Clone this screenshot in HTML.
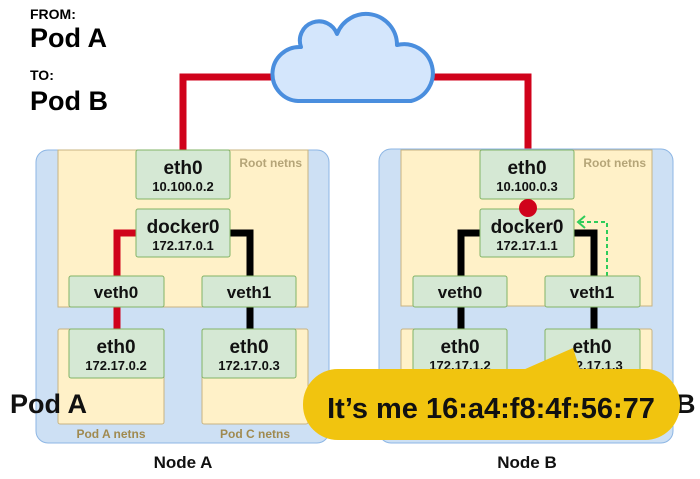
<!DOCTYPE html>
<html><head><meta charset="utf-8"><style>
html,body{margin:0;padding:0;background:#fff;}
svg{display:block;font-family:"Liberation Sans",sans-serif;}
.n{font-weight:bold;fill:#111;text-anchor:middle;}
</style></head><body>
<svg width="700" height="479" viewBox="0 0 700 479">
<text x="30" y="19" font-size="14" font-weight="bold">FROM:</text>
<text x="30" y="47" font-size="27" font-weight="bold">Pod A</text>
<text x="30" y="80" font-size="14" font-weight="bold">TO:</text>
<text x="30" y="110" font-size="27" font-weight="bold">Pod B</text>

<!-- red lines to cloud -->
<polyline points="183,150 183,77 290,77" fill="none" stroke="#d0021b" stroke-width="7"/>
<polyline points="528,150 528,77 420,77" fill="none" stroke="#d0021b" stroke-width="7"/>
<!-- cloud -->
<path d="M298,101 A24,24 0 0 1 301,47 A17,17 0 0 1 337,34 A31,31 0 0 1 397,45 A28,28 0 0 1 411,101 Z" fill="#d4e6fc" stroke="#4a8ede" stroke-width="4" stroke-linejoin="round"/>

<!-- Node A -->
<rect x="36" y="150" width="293" height="293" rx="12" fill="#cde0f4" stroke="#8db6e4" stroke-width="1"/>
<rect x="58" y="150" width="250" height="157" fill="#fff1c8" stroke="#c8b482" stroke-width="1"/>
<rect x="58" y="329" width="106" height="95" rx="2" fill="#fff1c8" stroke="#c8b482" stroke-width="1"/>
<rect x="202" y="329" width="106" height="95" rx="2" fill="#fff1c8" stroke="#c8b482" stroke-width="1"/>
<polyline points="136,233 117,233 117,329" fill="none" stroke="#d0021b" stroke-width="7"/>
<polyline points="230,233 250,233 250,329" fill="none" stroke="#000" stroke-width="7"/>
<text x="302" y="167" font-size="12" font-weight="bold" fill="#b5a578" text-anchor="end">Root netns</text>
<g fill="#d5e8d4" stroke="#82b366" stroke-width="1">
<rect x="136" y="150" width="94" height="49" rx="2"/>
<rect x="136" y="209" width="94" height="48" rx="2"/>
<rect x="69" y="276" width="95" height="31" rx="2"/>
<rect x="202" y="276" width="94" height="31" rx="2"/>
<rect x="69" y="329" width="95" height="49" rx="2"/>
<rect x="202" y="329" width="94" height="49" rx="2"/>
</g>
<text class="n" x="183" y="174" font-size="19">eth0</text>
<text class="n" x="183" y="191" font-size="13">10.100.0.2</text>
<text class="n" x="183" y="233" font-size="19">docker0</text>
<text class="n" x="183" y="250" font-size="13">172.17.0.1</text>
<text class="n" x="116" y="298" font-size="17">veth0</text>
<text class="n" x="249" y="298" font-size="17">veth1</text>
<text class="n" x="116" y="353" font-size="19">eth0</text>
<text class="n" x="116" y="370" font-size="13">172.17.0.2</text>
<text class="n" x="249" y="353" font-size="19">eth0</text>
<text class="n" x="249" y="370" font-size="13">172.17.0.3</text>
<text x="111" y="438" font-size="12" font-weight="bold" fill="#a08a50" text-anchor="middle">Pod A netns</text>
<text x="255" y="438" font-size="12" font-weight="bold" fill="#a08a50" text-anchor="middle">Pod C netns</text>
<text class="n" x="183" y="468" font-size="17">Node A</text>
<text x="10" y="413" font-size="27" font-weight="bold" fill="#111">Pod A</text>

<!-- Node B -->
<rect x="379" y="149" width="294" height="294" rx="12" fill="#cde0f4" stroke="#8db6e4" stroke-width="1"/>
<rect x="401" y="150" width="251" height="156" fill="#fff1c8" stroke="#c8b482" stroke-width="1"/>
<rect x="401" y="329" width="106" height="95" rx="2" fill="#fff1c8" stroke="#c8b482" stroke-width="1"/>
<rect x="545" y="329" width="107" height="95" rx="2" fill="#fff1c8" stroke="#c8b482" stroke-width="1"/>
<polyline points="480,233 461,233 461,329" fill="none" stroke="#000" stroke-width="7"/>
<polyline points="574,233 594,233 594,329" fill="none" stroke="#000" stroke-width="7"/>
<polyline points="607,276 607,222 578,222" fill="none" stroke="#2ecc5a" stroke-width="2" stroke-dasharray="4,3"/>
<polyline points="585,216 578,222 585,228" fill="none" stroke="#2ecc5a" stroke-width="2"/>
<text x="646" y="167" font-size="12" font-weight="bold" fill="#b5a578" text-anchor="end">Root netns</text>
<g fill="#d5e8d4" stroke="#82b366" stroke-width="1">
<rect x="480" y="150" width="94" height="49" rx="2"/>
<rect x="480" y="209" width="94" height="48" rx="2"/>
<rect x="413" y="276" width="94" height="31" rx="2"/>
<rect x="545" y="276" width="95" height="31" rx="2"/>
<rect x="413" y="329" width="94" height="49" rx="2"/>
<rect x="545" y="329" width="95" height="49" rx="2"/>
</g>
<circle cx="528" cy="208" r="9" fill="#d0021b"/>
<text class="n" x="527" y="174" font-size="19">eth0</text>
<text class="n" x="527" y="191" font-size="13">10.100.0.3</text>
<text class="n" x="527" y="233" font-size="19">docker0</text>
<text class="n" x="527" y="250" font-size="13">172.17.1.1</text>
<text class="n" x="460" y="298" font-size="17">veth0</text>
<text class="n" x="592" y="298" font-size="17">veth1</text>
<text class="n" x="460" y="353" font-size="19">eth0</text>
<text class="n" x="460" y="370" font-size="13">172.17.1.2</text>
<text class="n" x="592" y="353" font-size="19">eth0</text>
<text class="n" x="592" y="370" font-size="13">172.17.1.3</text>
<text class="n" x="527" y="468" font-size="17">Node B</text>
<text x="676" y="413" font-size="27" font-weight="bold" fill="#111">B</text>

<!-- speech bubble -->
<path d="M523,370 L573,348 L580,370 Z" fill="#f1c40f"/>
<rect x="303" y="369" width="377" height="71" rx="35" fill="#f1c40f"/>
<text x="491" y="418" font-size="29" font-weight="bold" fill="#111" text-anchor="middle">It’s me 16:a4:f8:4f:56:77</text>
</svg>
</body></html>
